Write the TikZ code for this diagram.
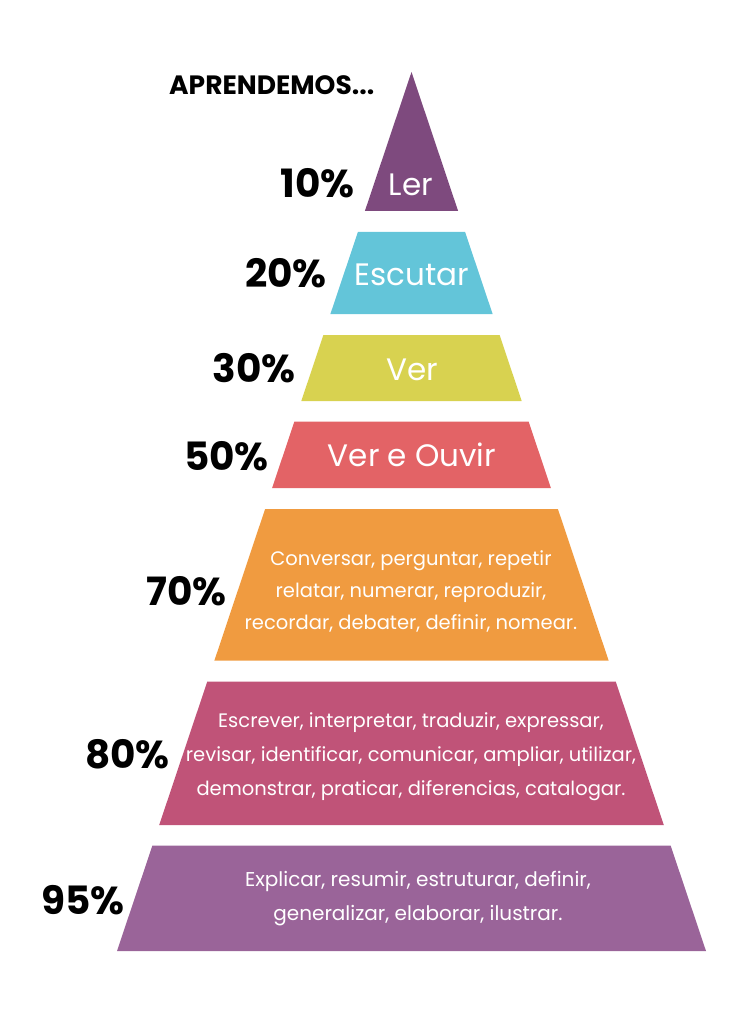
\documentclass[tikz,border=0pt]{standalone}
\usepackage{fontspec}
\setmainfont{Poppins}
\usetikzlibrary{positioning}
\definecolor{lerc}{RGB}{126,74,126}
\definecolor{escutarc}{RGB}{99,197,217}
\definecolor{verc}{RGB}{216,210,80}
\definecolor{ouvirc}{RGB}{227,99,102}
\definecolor{conversarc}{RGB}{240,155,64}
\definecolor{escreverc}{RGB}{192,83,120}
\definecolor{explicarc}{RGB}{154,100,153}

\begin{document}
\begin{tikzpicture}[x=1pt,y=-1pt,
    pct/.style={anchor=base east,inner sep=0pt,font=\bfseries\fontsize{39}{42}\selectfont},
    big/.style={anchor=base,inner sep=0pt,text=white,font=\fontsize{31}{34}\selectfont},
    small/.style={inner sep=0pt,text=white,align=center,font=\fontsize{19.5}{34}\selectfont}]
    \useasboundingbox (0,0) rectangle (747,1024);
    % Niveis
    \fill[lerc] (411.5,72) -- (458.1,211) -- (364.9,211) -- cycle;
    \fill[escutarc] (357.9,232) -- (465.1,232) -- (492.6,314) -- (330.4,314) -- cycle;
    \fill[verc] (323.4,335) -- (499.6,335) -- (521.7,401) -- (301.3,401) -- cycle;
    \fill[ouvirc] (294.4,421.5) -- (528.6,421.5) -- (550.9,488) -- (272.1,488) -- cycle;
    \fill[conversarc] (265.1,509) -- (557.9,509) -- (608.6,660.5) -- (214.4,660.5) -- cycle;
    \fill[escreverc] (207.3,681.5) -- (615.7,681.5) -- (663.8,825) -- (159.2,825) -- cycle;
    \fill[explicarc] (152.4,845.5) -- (670.6,845.5) -- (706,951) -- (117,951) -- cycle;
    % Textos
    \node (title) [anchor=base west,inner sep=0pt,font=\bfseries\fontsize{26.5}{30}\selectfont] at (169,95) {APRENDEMOS...};
    \node (p10) [pct] at (355,198) {10\%};
    \node (p20) [pct] at (327,287) {20\%};
    \node (p30) [pct] at (296,382) {30\%};
    \node (p50) [pct] at (269,470) {50\%};
    \node (p70) [pct] at (227,605) {70\%};
    \node (p80) [pct] at (170,768) {80\%};
    \node (p95) [pct] at (125,914) {95\%};
    \node (ler) [big] at (411,196) {Ler};
    \node (escutar) [big] at (412,285) {Escutar};
    \node (ver) [big] at (412,380) {Ver};
    \node (ouvir) [big] at (412,466) {Ver e Ouvir};
    \node (conversar) [small,font=\fontsize{19.5}{32}\selectfont] at (411,591) {Conversar, perguntar, repetir\\relatar, numerar, reproduzir,\\recordar, debater, definir, nomear.};
    \node (escrever) [small] at (411,757) {Escrever, interpretar, traduzir, expressar,\\revisar, identificar, comunicar, ampliar, utilizar,\\demonstrar, praticar, diferencias, catalogar.};
    \node (explicar) [small,font=\fontsize{20}{34}\selectfont] at (418,899) {Explicar, resumir, estruturar, definir,\\generalizar, elaborar, ilustrar.};
\end{tikzpicture}
\end{document}
